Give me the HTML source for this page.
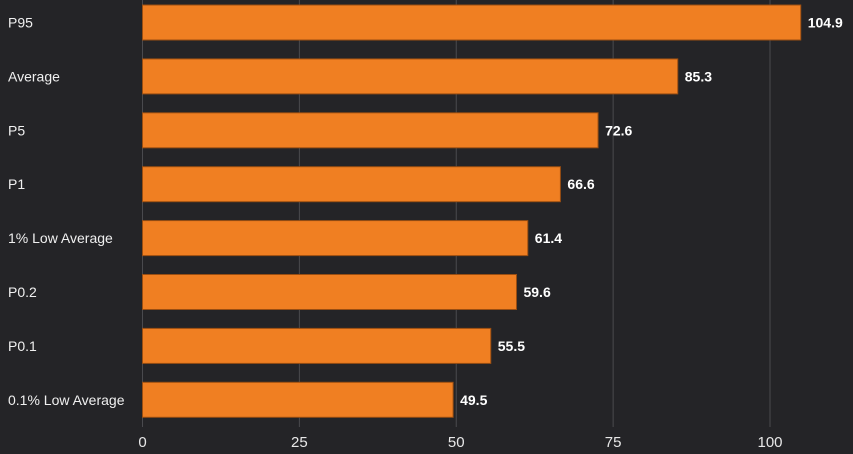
<!DOCTYPE html>
<html><head><meta charset="utf-8"><style>
html,body{margin:0;padding:0;background:#242427;}
svg{display:block;font-family:"Liberation Sans",sans-serif;}
</style></head><body>
<svg id="chart" width="853" height="454" viewBox="0 0 853 454">
<rect width="853" height="454" fill="#242427"/>
<g id="grid"></g><g id="bars"></g><g id="labels"></g><g id="ticks"></g>
</svg>
<script>
const categories = ["P95","Average","P5","P1","1% Low Average","P0.2","P0.1","0.1% Low Average"];
const values = [104.9,85.3,72.6,66.6,61.4,59.6,55.5,49.5];
const valueLabels = ["104.9","85.3","72.6","66.6","61.4","59.6","55.5","49.5"];
const tickValues = [0,25,50,75,100];
const tickLabels = ["0","25","50","75","100"];

const NS="http://www.w3.org/2000/svg";
const x0=142.5, pxPerUnit=(770-142.5)/100;
const xs=v=>x0+v*pxPerUnit;
const y0=5, pitch=53.9, bh=35;
const ys=i=>y0+i*pitch;
function mk(t,a,p){const e=document.createElementNS(NS,t);for(const k in a)e.setAttribute(k,a[k]);p.appendChild(e);return e;}
const grid=document.getElementById('grid'),bars=document.getElementById('bars'),labels=document.getElementById('labels'),ticks=document.getElementById('ticks');
tickValues.forEach((t,i)=>{
  const l=mk('line',{x1:xs(t),x2:xs(t),y1:0,y2:427,stroke:'#4a4a4e','stroke-width':1},grid);
  
  
  const tx=mk('text',{x:xs(t),y:447,'text-anchor':'middle',fill:'#e8e8e8','font-size':15},ticks);
  tx.textContent=tickLabels[i];
  
  
});
categories.forEach((c,i)=>{
  const y=ys(i);
  const r=mk('rect',{x:x0,y:y,width:xs(values[i])-x0,height:bh,fill:'#f07f22',stroke:'#9a4e12','stroke-width':1},bars);
  
  
  const cl=mk('text',{x:8,y:y+bh/2+5,fill:'#f0f0f0','font-size':14},labels);
  cl.textContent=c;
  
  
  const vl=mk('text',{x:xs(values[i])+7,y:y+bh/2+5,fill:'#ffffff','font-size':14,'font-weight':'bold'},labels);
  vl.textContent=valueLabels[i];
  
  
});
</script>
</body></html>
